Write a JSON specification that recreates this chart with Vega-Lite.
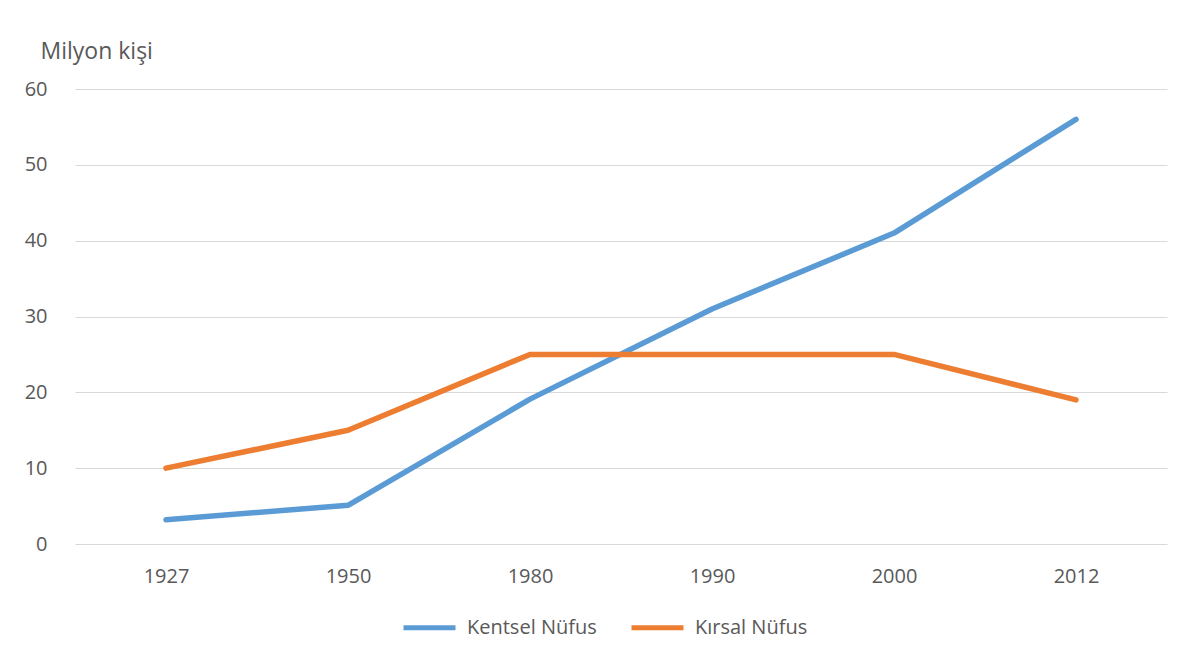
{
  "$schema": "https://vega.github.io/schema/vega-lite/v6.json",
  "width": 1092,
  "height": 455,
  "autosize": "none",
  "padding": {"left": 75, "top": 89, "right": 22, "bottom": 119},
  "background": "white",
  "data": {
    "values": [
      {"yil": "1927", "seri": "Kentsel Nüfus", "deger": 3.2},
      {"yil": "1950", "seri": "Kentsel Nüfus", "deger": 5.1},
      {"yil": "1980", "seri": "Kentsel Nüfus", "deger": 19.1},
      {"yil": "1990", "seri": "Kentsel Nüfus", "deger": 31},
      {"yil": "2000", "seri": "Kentsel Nüfus", "deger": 41},
      {"yil": "2012", "seri": "Kentsel Nüfus", "deger": 56},
      {"yil": "1927", "seri": "Kırsal Nüfus", "deger": 10},
      {"yil": "1950", "seri": "Kırsal Nüfus", "deger": 15},
      {"yil": "1980", "seri": "Kırsal Nüfus", "deger": 25},
      {"yil": "1990", "seri": "Kırsal Nüfus", "deger": 25},
      {"yil": "2000", "seri": "Kırsal Nüfus", "deger": 25},
      {"yil": "2012", "seri": "Kırsal Nüfus", "deger": 19}
    ]
  },
  "mark": {"type": "line", "strokeWidth": 5.5, "strokeCap": "round", "strokeJoin": "round"},
  "encoding": {
    "x": {
      "field": "yil",
      "type": "ordinal",
      "scale": {"type": "point", "padding": 0.5},
      "axis": {
        "title": null,
        "labelAngle": 0,
        "domain": false,
        "ticks": false,
        "grid": false,
        "labelPadding": 22,
        "labelFontSize": 20,
        "labelColor": "#595959",
        "labelFont": "Open Sans"
      }
    },
    "y": {
      "field": "deger",
      "type": "quantitative",
      "scale": {"domain": [0, 60]},
      "axis": {
        "values": [0, 10, 20, 30, 40, 50, 60],
        "title": "Milyon kişi",
        "titleAngle": 0,
        "titleX": -35,
        "titleY": -31,
        "titleAlign": "left",
        "titleBaseline": "alphabetic",
        "titleFontSize": 23,
        "titleFontWeight": "normal",
        "titleColor": "#595959",
        "titleFont": "Open Sans",
        "domain": false,
        "ticks": false,
        "grid": true,
        "gridColor": "#d9d9d9",
        "gridWidth": 1,
        "labelPadding": 28,
        "labelFontSize": 20,
        "labelColor": "#595959",
        "labelFont": "Open Sans"
      }
    },
    "color": {
      "field": "seri",
      "type": "nominal",
      "scale": {"domain": ["Kentsel Nüfus", "Kırsal Nüfus"], "range": ["#5B9BD5", "#ED7D31"]},
      "legend": {
        "title": null,
        "orient": "none",
        "direction": "horizontal",
        "legendX": 326,
        "legendY": 510,
        "symbolType": "stroke",
        "symbolSize": 2704,
        "symbolStrokeWidth": 5,
        "labelFontSize": 20,
        "labelColor": "#595959",
        "labelFont": "Open Sans",
        "labelOffset": 9,
        "columnPadding": 24
      }
    }
  },
  "config": {"view": {"stroke": null}}
}
